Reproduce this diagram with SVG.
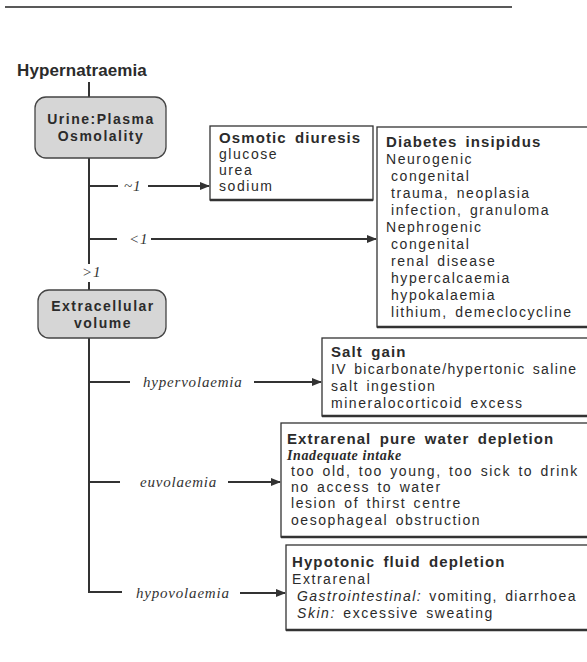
<svg xmlns="http://www.w3.org/2000/svg" width="587" height="662" viewBox="0 0 587 662">
  <defs>
    <marker id="arrow" viewBox="0 0 10 10" refX="9" refY="5" markerWidth="5" markerHeight="5" orient="auto" markerUnits="strokeWidth">
      <path d="M0,1 L10,5 L0,9 z" fill="#333"/>
    </marker>
    <style>
      .txt{font-family:"Liberation Sans",Arial,sans-serif;font-size:14px;fill:#2b2b2b;letter-spacing:1.55px;word-spacing:2px}
      .hd{font-family:"Liberation Sans",Arial,sans-serif;font-size:15px;font-weight:bold;fill:#2b2b2b;letter-spacing:1.1px;word-spacing:3px}
      .nodeTxt{font-family:"Liberation Sans",Arial,sans-serif;font-size:14px;font-weight:bold;fill:#2b2b2b;letter-spacing:1.5px;text-anchor:middle}
      .lab{font-family:"Liberation Serif","Times New Roman",serif;font-size:15px;font-style:italic;fill:#333;letter-spacing:0.8px}
      .ital{font-style:italic}
      .box{fill:#fff;stroke:#333;stroke-width:1.3}
      .shadow{stroke:#333;stroke-width:2.6}
      .rbox{fill:#d6d6d6;stroke:#444;stroke-width:1.3}
      .ln{stroke:#333;stroke-width:2;fill:none}
      .arr{stroke:#333;stroke-width:2;fill:none;marker-end:url(#arrow)}
    </style>
  </defs>

  <rect width="587" height="662" fill="#fff"/>

  <!-- page rule -->
  <line x1="5" y1="7" x2="512" y2="7" stroke="#222" stroke-width="1.5"/>

  <g id="title">
    <text x="17" y="76" style="font-family:'Liberation Sans',Arial,sans-serif;font-size:17px;font-weight:bold;fill:#2b2b2b;letter-spacing:0.1px">Hypernatraemia</text>
  </g>

  <!-- connectors -->
  <g id="connectors">
    <path class="ln" d="M89,82 V97"/>
    <path class="ln" d="M89,158 V264"/>
    <path class="ln" d="M89,282 V290"/>
    <path class="ln" d="M89,338 V592 H122"/>
    <path class="ln" d="M89,186 H118"/>
    <path class="ln" d="M89,239 H117"/>
    <path class="ln" d="M89,382 H130"/>
    <path class="ln" d="M89,482 H120"/>
    <path class="arr" d="M148,186 H209"/>
    <path class="arr" d="M151,239 H376"/>
    <path class="arr" d="M254,382 H321"/>
    <path class="arr" d="M228,482 H280"/>
    <path class="arr" d="M240,593 H285"/>
    <text class="lab" x="124" y="191">~1</text>
    <text class="lab" x="129" y="244">&lt;1</text>
    <text class="lab" x="82" y="277">&gt;1</text>
    <text class="lab" x="143" y="387">hypervolaemia</text>
    <text class="lab" x="140" y="487">euvolaemia</text>
    <text class="lab" x="136" y="598">hypovolaemia</text>
  </g>

  <g id="osmolality">
    <rect class="rbox" x="35" y="97" width="131" height="61" rx="11"/>
    <text class="nodeTxt" x="101" y="124">Urine:Plasma</text>
    <text class="nodeTxt" x="101" y="141">Osmolality</text>
  </g>

  <g id="ecf-volume">
    <rect class="rbox" x="38" y="290" width="128" height="48" rx="11"/>
    <text class="nodeTxt" x="103" y="311">Extracellular</text>
    <text class="nodeTxt" x="103" y="328">volume</text>
  </g>

  <g id="osmotic-diuresis">
    <rect class="box" x="210" y="126" width="163" height="74"/>
    <line class="shadow" x1="210" y1="200" x2="373" y2="200"/>
    <text class="hd" x="219" y="143">Osmotic diuresis</text>
    <text class="txt" x="219" y="159">glucose</text>
    <text class="txt" x="219" y="175">urea</text>
    <text class="txt" x="219" y="191">sodium</text>
  </g>

  <g id="diabetes-insipidus">
    <rect class="box" x="377" y="127" width="240" height="200"/>
    <line class="shadow" x1="377" y1="327" x2="587" y2="327"/>
    <text class="hd" x="386" y="147">Diabetes insipidus</text>
    <text class="txt" x="386" y="164">Neurogenic</text>
    <text class="txt" x="391" y="181">congenital</text>
    <text class="txt" x="391" y="198">trauma, neoplasia</text>
    <text class="txt" x="391" y="215">infection, granuloma</text>
    <text class="txt" x="386" y="232">Nephrogenic</text>
    <text class="txt" x="391" y="249">congenital</text>
    <text class="txt" x="391" y="266">renal disease</text>
    <text class="txt" x="391" y="283">hypercalcaemia</text>
    <text class="txt" x="391" y="300">hypokalaemia</text>
    <text class="txt" x="391" y="317">lithium, demeclocycline</text>
  </g>

  <g id="salt-gain">
    <rect class="box" x="322" y="338" width="290" height="78"/>
    <line class="shadow" x1="322" y1="416" x2="587" y2="416"/>
    <text class="hd" x="331" y="357">Salt gain</text>
    <text class="txt" x="331" y="374" style="letter-spacing:1.35px">IV bicarbonate/hypertonic saline</text>
    <text class="txt" x="331" y="391">salt ingestion</text>
    <text class="txt" x="331" y="408">mineralocorticoid excess</text>
  </g>

  <g id="pure-water-depletion">
    <rect class="box" x="281" y="423" width="330" height="114"/>
    <line class="shadow" x1="281" y1="537" x2="587" y2="537"/>
    <text class="hd" x="287" y="444">Extrarenal pure water depletion</text>
    <text x="287" y="460" style="font-family:'Liberation Serif','Times New Roman',serif;font-size:14px;font-weight:bold;font-style:italic;fill:#2b2b2b;letter-spacing:0.6px">Inadequate intake</text>
    <text class="txt" x="291" y="476">too old, too young, too sick to drink</text>
    <text class="txt" x="291" y="492">no access to water</text>
    <text class="txt" x="291" y="508">lesion of thirst centre</text>
    <text class="txt" x="291" y="525">oesophageal obstruction</text>
  </g>

  <g id="hypotonic-fluid-depletion">
    <rect class="box" x="286" y="545" width="330" height="85"/>
    <line class="shadow" x1="286" y1="630" x2="587" y2="630"/>
    <text class="hd" x="292" y="567">Hypotonic fluid depletion</text>
    <text class="txt" x="292" y="584">Extrarenal</text>
    <text class="txt" x="297" y="601" style="letter-spacing:1.4px"><tspan class="ital">Gastrointestinal:</tspan> vomiting, diarrhoea</text>
    <text class="txt" x="297" y="618"><tspan class="ital">Skin:</tspan> excessive sweating</text>
  </g>
</svg>
